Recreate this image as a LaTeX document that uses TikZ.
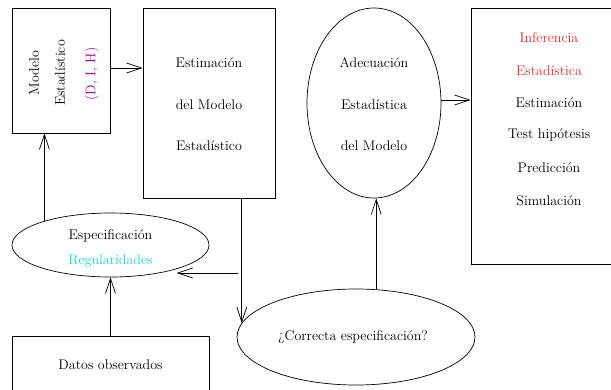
\documentclass[tikz,border=0pt]{standalone}
\usetikzlibrary{arrows.meta,shapes.geometric}
\definecolor{dihcol}{RGB}{160,0,160}
\definecolor{infred}{RGB}{240,40,40}
\definecolor{regcyan}{RGB}{20,215,215}
\begin{document}
\begin{tikzpicture}[x=1pt,y=-1pt,
  every node/.style={font=\fontsize{14}{17}\selectfont, inner sep=0pt},
  boxshape/.style={draw, rectangle, line width=0.7pt},
  ellshape/.style={draw, ellipse, line width=0.7pt},
  arr/.style={line width=0.7pt, -{Straight Barb[length=15pt,width=10pt]}},
  plain/.style={line width=0.7pt}]
\useasboundingbox (0,0) rectangle (611,389);
% Modelo box
\node[boxshape, minimum width=98pt, minimum height=125pt] (modelo) at (61,70.5) {};
\node[rotate=90] (m1) at (34,73) {Modelo};
\node[rotate=90] (m2) at (60,73) {Estadístico};
\node[rotate=90, text=dihcol] (m3) at (92,74) {(D, I, H)};
% Estimacion box
\node[boxshape, minimum width=132pt, minimum height=190pt] (estim) at (209,103) {};
\node (e1) at (209,63) {Estimación};
\node (e2) at (209,105) {del Modelo};
\node (e3) at (209,146) {Estadístico};
% Adecuacion ellipse
\node[ellshape, minimum width=134pt, minimum height=190pt] (adec) at (374,103) {};
\node (a1) at (374,63) {Adecuación};
\node (a2) at (374,105) {Estadística};
\node (a3) at (374,146) {del Modelo};
% Inferencia box
\node[boxshape, minimum width=156pt, minimum height=256pt] (infer) at (549,136) {};
\node[text=infred] (i1) at (549,38) {Inferencia};
\node[text=infred] (i2) at (549,71) {Estadística};
\node (i3) at (549,103) {Estimación};
\node (i4) at (549,135) {Test hipótesis};
\node (i5) at (549,168) {Predicción};
\node (i6) at (549,201) {Simulación};
% Especificacion ellipse
\node[ellshape, minimum width=197pt, minimum height=64pt] (espec) at (110.5,245) {};
\node (s1) at (110.5,236) {Especificación};
\node[text=regcyan] (s2) at (110.5,261) {Regularidades};
% Datos box
\node[boxshape, minimum width=197pt, minimum height=58pt] (datos) at (110.5,365) {};
\node (d1) at (110.5,365) {Datos observados};
% Correcta ellipse
\node[ellshape, minimum width=238pt, minimum height=96pt] (correcta) at (356,337) {};
\node (c1) at (353,337) {¿Correcta especificación?};
% connectors
\draw[arr] (modelo.east |- 0,68) -- (estim.west |- 0,68);
\draw[arr] (adec.east |- 0,100) -- (infer.west |- 0,100);
\draw[arr] (espec.160) -- (espec.160 |- modelo.south);
\draw[arr] (datos.north) -- (espec.south);
\coordinate (ctop) at (correcta.173.5);
\draw[arr] (estim.south -| ctop) -- (ctop);
\coordinate (br) at (238,273);
\draw[arr] (br) -- (br -| espec.-20);
\coordinate (cup) at (correcta.67);
\draw[arr] (cup) -- (cup |- adec.south);
\end{tikzpicture}
\end{document}
